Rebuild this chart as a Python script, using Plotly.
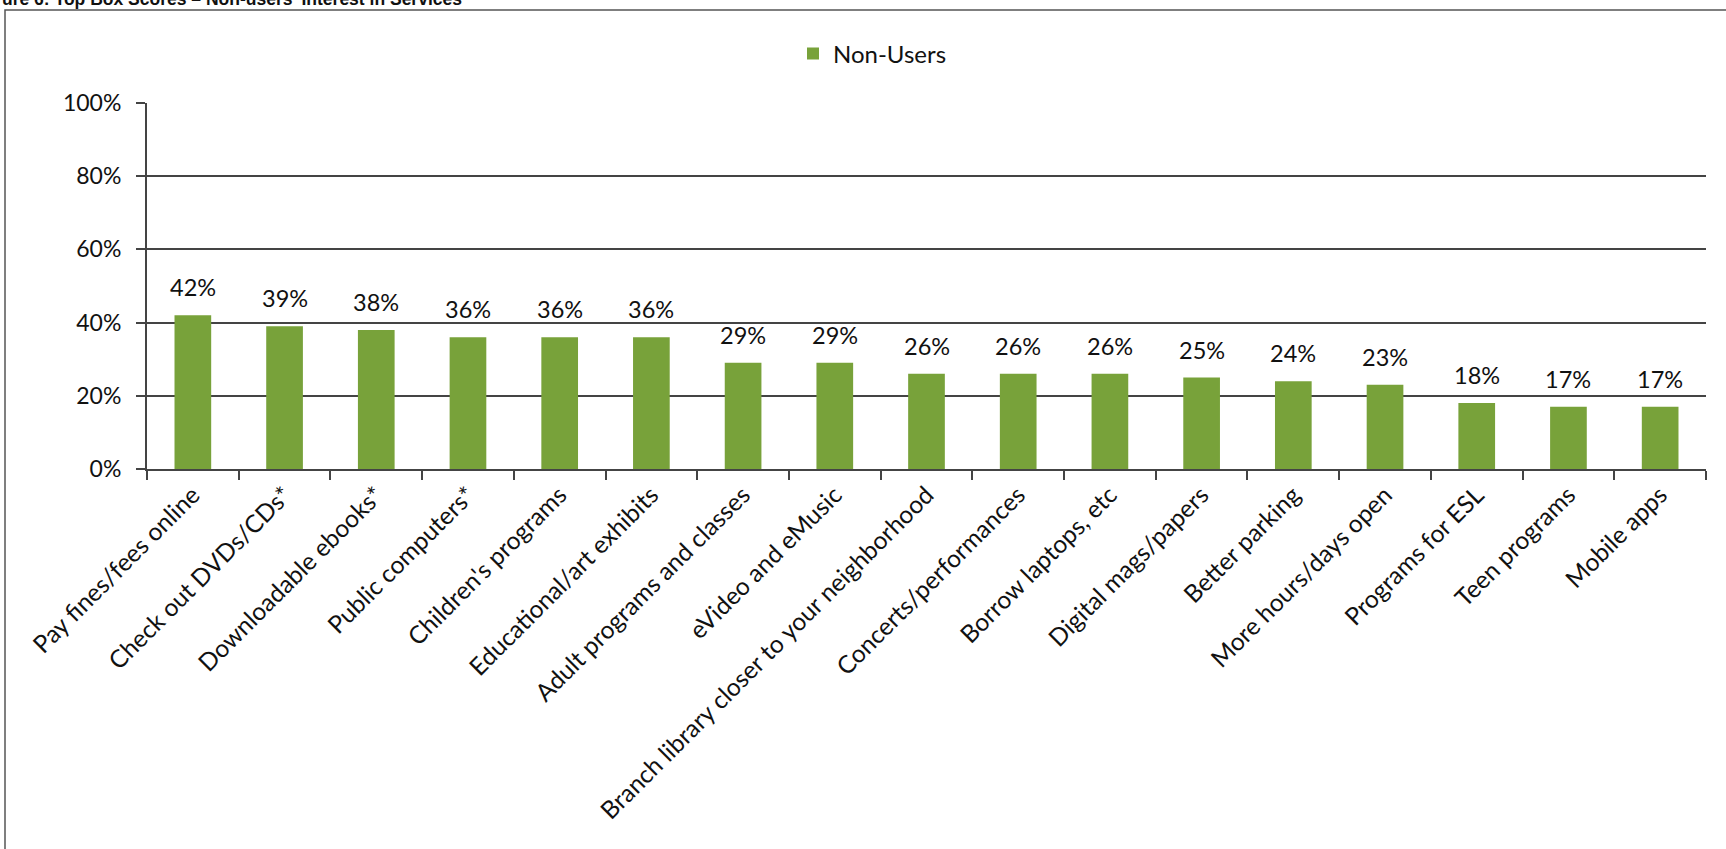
import plotly.graph_objects as go

categories = [
    "Pay fines/fees online", "Check out DVDs/CDs*", "Downloadable ebooks*",
    "Public computers*", "Children's programs", "Educational/art exhibits",
    "Adult programs and classes", "eVideo and eMusic",
    "Branch library closer to your neighborhood", "Concerts/performances",
    "Borrow laptops, etc", "Digital mags/papers", "Better parking",
    "More hours/days open", "Programs for ESL", "Teen programs", "Mobile apps",
]
non_users = [42, 39, 38, 36, 36, 36, 29, 29, 26, 26, 26, 25, 24, 23, 18, 17, 17]
y_ticks = [0, 20, 40, 60, 80, 100]
y_tick_labels = ["0%", "20%", "40%", "60%", "80%", "100%"]
series_name = "Non-Users"
title_text = "ure 6: Top Box Scores \u2013 Non-users' Interest in Services"

W, H = 1726, 849
L, R, T, B = 147, 20, 103, 380
pw = W - L - R
ph = H - T - B

def px_x(px):
    return (px - L) / pw

def px_y(py):
    return (H - B - py) / ph

FONT = "Lato, Carlito, Calibri, sans-serif"
GREEN = "#78a23a"
LINE = "#444444"

fig = go.Figure()
fig.add_trace(go.Bar(
    x=categories, y=non_users, name=series_name,
    marker=dict(color=GREEN, line=dict(width=0)),
    showlegend=True,
))

annotations = []
for c, v in zip(categories, non_users):
    annotations.append(dict(
        x=c, y=v, xref="x", yref="y", text=f"{v}%", showarrow=False,
        yanchor="bottom", yshift=12, font=dict(family=FONT, size=23.5, color="#111"),
    ))
annotations.append(dict(
    x=px_x(0), y=px_y(-1), xref="paper", yref="paper", xanchor="left", yanchor="middle",
    text=f"<b>{title_text}</b>", showarrow=False,
    font=dict(family="Liberation Sans, Arial, sans-serif", size=17.5, color="#111"),
))

fig.update_layout(
    width=W, height=H,
    margin=dict(l=L, r=R, t=T, b=B, pad=0, autoexpand=False),
    paper_bgcolor="white", plot_bgcolor="white",
    bargap=0.6,
    font=dict(family=FONT, size=23, color="#111"),
    legend=dict(
        orientation="h", x=px_x(793), y=px_y(54), xanchor="left", yanchor="middle",
        font=dict(family=FONT, size=24, color="#111"), itemwidth=30,
        bgcolor="rgba(0,0,0,0)",
    ),
    annotations=annotations,
    shapes=[dict(
        type="rect", xref="paper", yref="paper",
        x0=px_x(5), x1=px_x(1740), y0=px_y(860), y1=px_y(10),
        line=dict(color="#555", width=1.5), fillcolor="rgba(0,0,0,0)", layer="below",
    )],
)
fig.update_xaxes(
    type="category", tickangle=-45, showgrid=False, automargin=False,
    showline=True, linecolor=LINE, linewidth=2,
    ticks="outside", tickson="boundaries", ticklen=9, tickcolor=LINE, tickwidth=1.5,
    tickfont=dict(family=FONT, size=24.5, color="#111"),
)
fig.update_yaxes(
    range=[0, 100], tickvals=y_ticks, ticktext=y_tick_labels, automargin=False,
    showgrid=True, gridcolor=LINE, gridwidth=1.5,
    showline=True, linecolor=LINE, linewidth=2,
    ticks="outside", ticklen=9, tickcolor=LINE, tickwidth=1.5,
    ticklabelstandoff=10, zeroline=False,
    tickfont=dict(family=FONT, size=23, color="#111"),
)

fig.write_html(
    "out.html",
    config={"displayModeBar": False},
    post_script="document.body.style.margin='0';",
)
